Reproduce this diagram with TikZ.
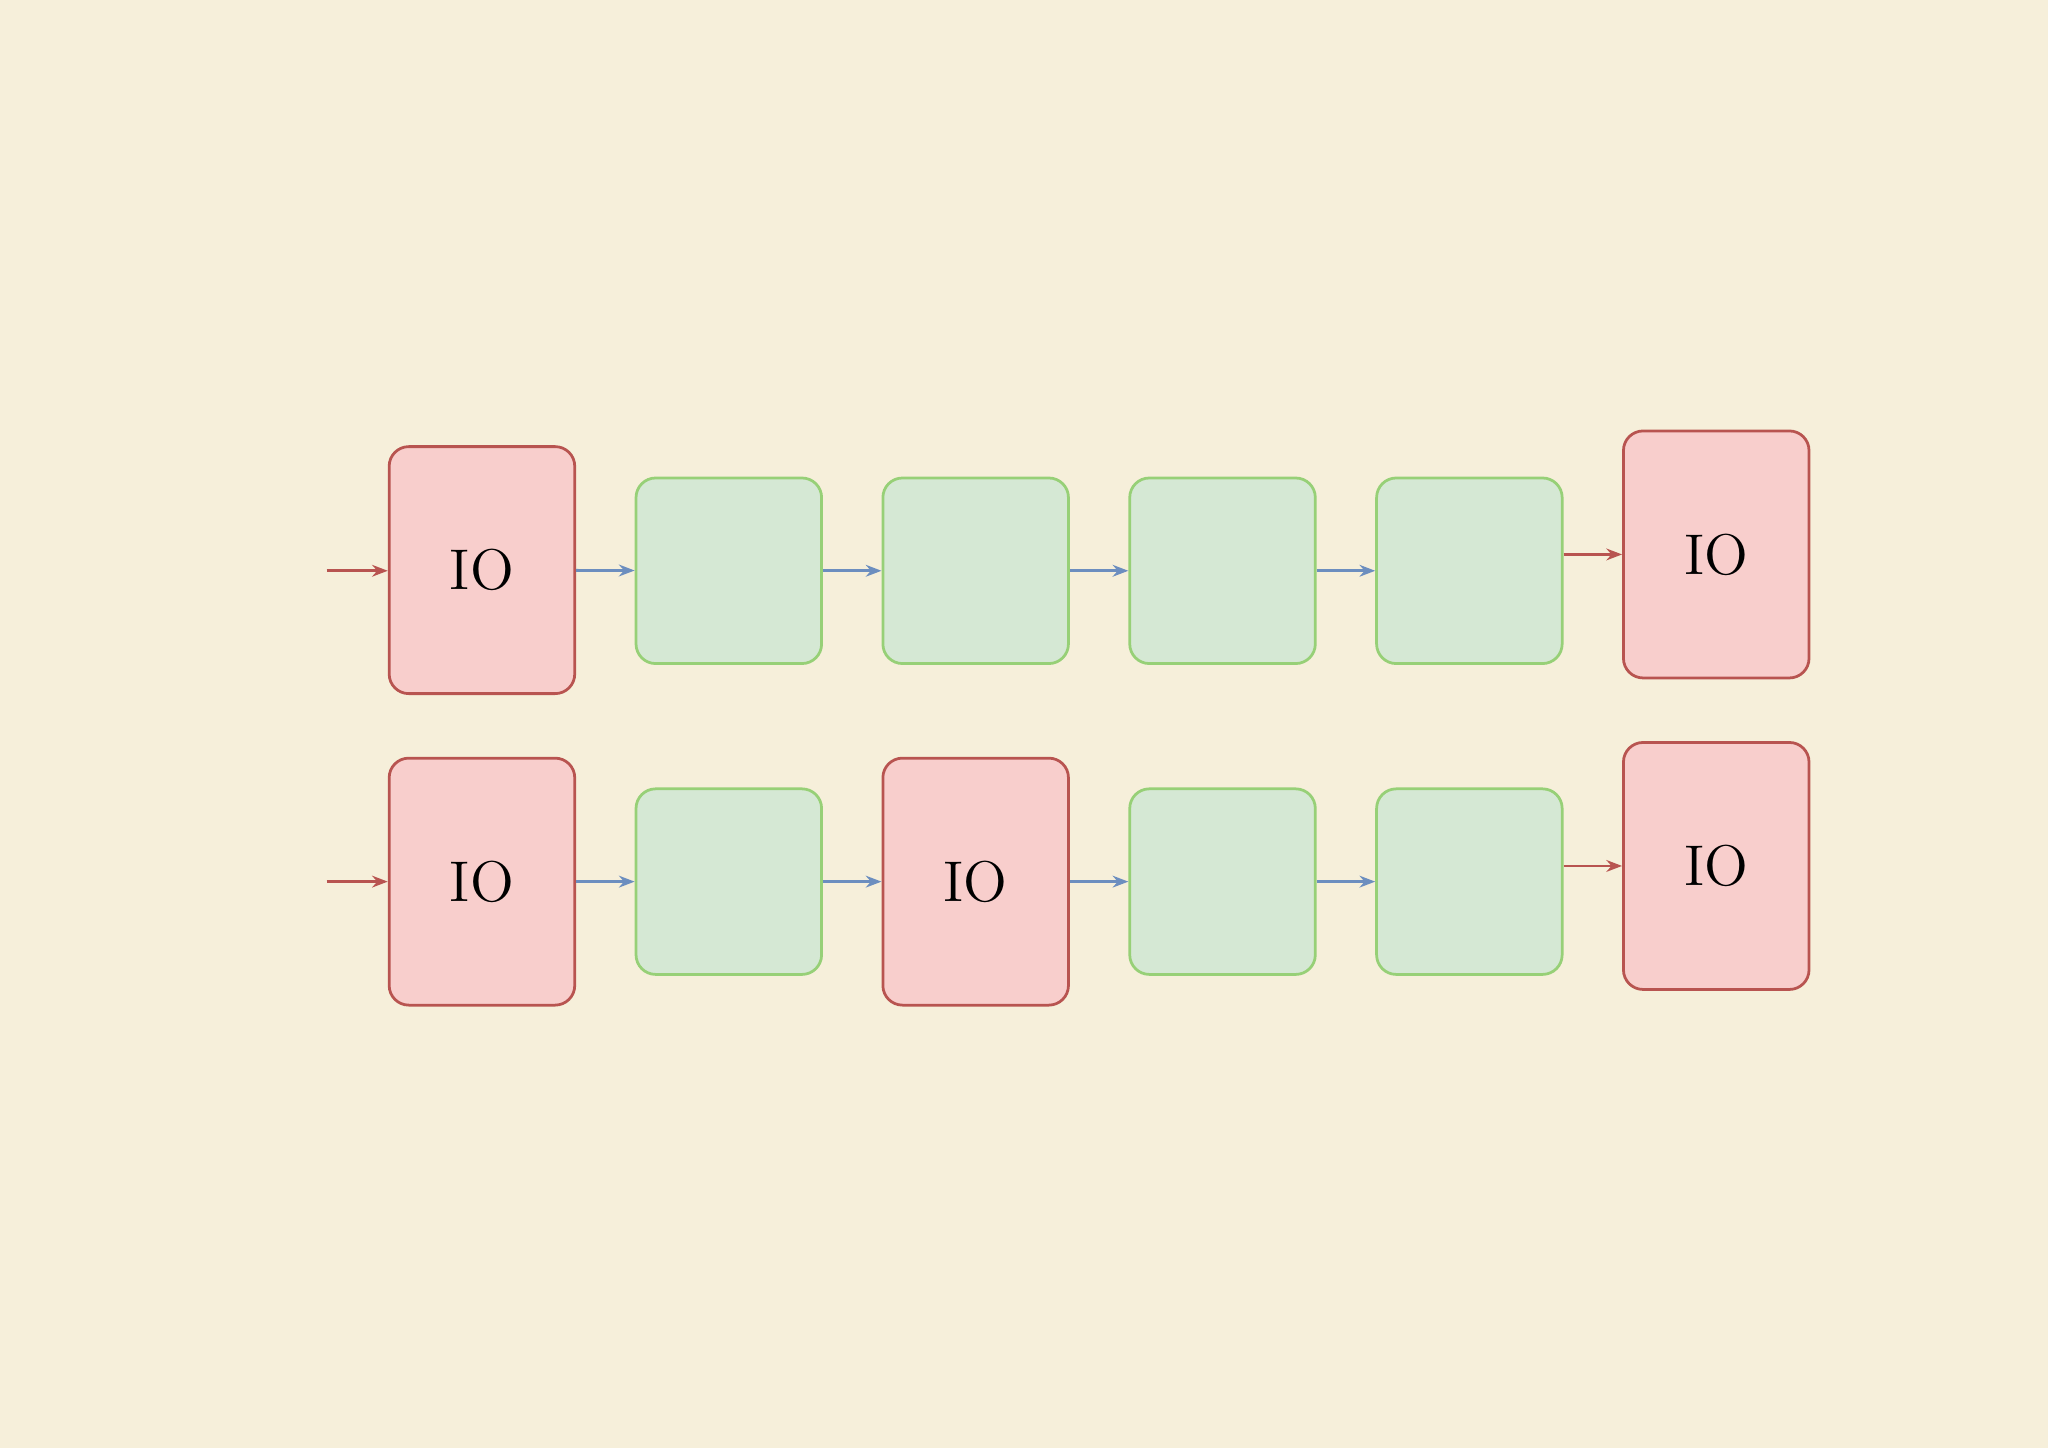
\documentclass[tikz,border=0pt]{standalone}
\usetikzlibrary{arrows.meta}
\definecolor{bg}{HTML}{F6EFDA}
\definecolor{iof}{HTML}{F8CECC}
\definecolor{iod}{HTML}{B85450}
\definecolor{gf}{HTML}{D5E8D4}
\definecolor{gd}{HTML}{97D077}
\definecolor{bl}{HTML}{6C8EBF}
\begin{document}
\begin{tikzpicture}[x=0.01cm,y=-0.01cm,
  iobox/.style={draw=iod,fill=iof,line width=0.6pt,rounded corners=0.15cm,minimum width=1.42cm,minimum height=1.89cm,inner sep=0pt,font=\fontsize{12.5}{14}\selectfont},
  gbox/.style={draw=gd,fill=gf,line width=0.6pt,rounded corners=0.15cm,minimum width=1.42cm,minimum height=1.42cm,inner sep=0pt},
  ba/.style={draw=bl,line width=0.6pt,-{Stealth[length=0.12cm,width=0.09cm]}},
  ra/.style={draw=iod,line width=0.6pt,-{Stealth[length=0.12cm,width=0.09cm]}}]
\fill[bg] (0,0) rectangle (1568,1109);
\useasboundingbox (0,0) rectangle (1568,1109);
% row 1
\node[iobox] (a1) at (369,436.5) {IO};
\node[gbox] (a2) at (558,437) {};
\node[gbox] (a3) at (747,437) {};
\node[gbox] (a4) at (936,437) {};
\node[gbox] (a5) at (1125,437) {};
\node[iobox] (a6) at (1314,424.5) {IO};
\coordinate (s1) at (250,437);
\draw[ra] (s1) -- (a1.west |- s1);
\draw[ba] (a1) -- (a2);
\draw[ba] (a2) -- (a3);
\draw[ba] (a3) -- (a4);
\draw[ba] (a4) -- (a5);
\draw[ra] (a6.west -| a5.east) -- (a6.west);
% row 2
\node[iobox] (b1) at (369,675) {IO};
\node[gbox] (b2) at (558,675) {};
\node[iobox] (b3) at (747,675) {IO};
\node[gbox] (b4) at (936,675) {};
\node[gbox] (b5) at (1125,675) {};
\node[iobox] (b6) at (1314,663) {IO};
\coordinate (s2) at (250,675);
\draw[ra] (s2) -- (b1.west |- s2);
\draw[ba] (b1) -- (b2);
\draw[ba] (b2) -- (b3);
\draw[ba] (b3) -- (b4);
\draw[ba] (b4) -- (b5);
\draw[ra] (b6.west -| b5.east) -- (b6.west);
\end{tikzpicture}
\end{document}
